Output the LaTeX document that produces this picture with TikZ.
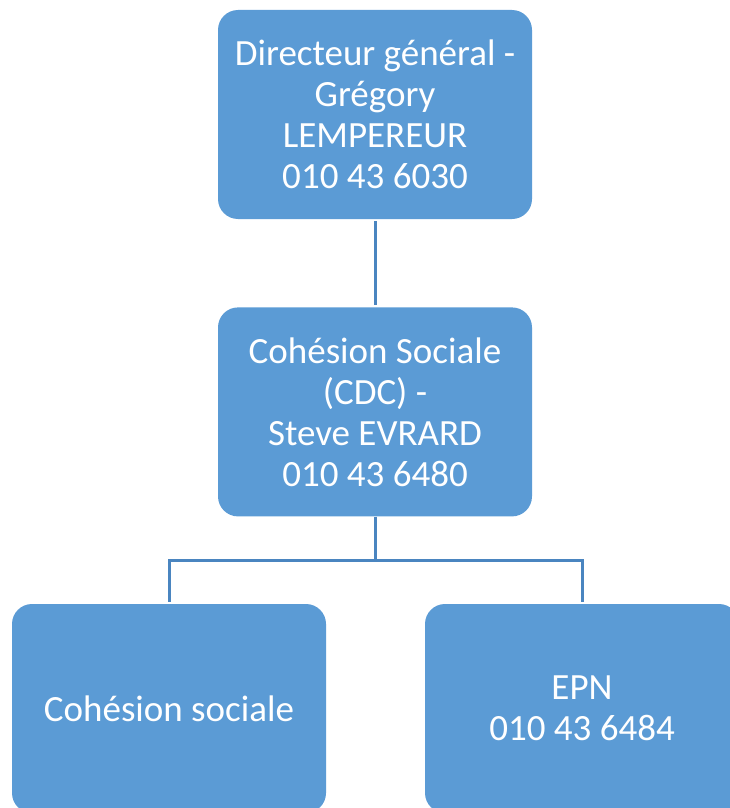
\documentclass[tikz,border=0pt]{standalone}
\usepackage{fontspec}
\setmainfont{Carlito}
\usetikzlibrary{positioning,calc}

\definecolor{boxblue}{HTML}{5B9BD5}
\definecolor{lineblue}{HTML}{4A85C0}

\begin{document}
\begin{tikzpicture}[x=1pt, y=-1pt,
    unit/.style={rectangle, fill=boxblue, rounded corners=20pt, minimum width=314pt, minimum height=209pt, inner sep=0pt,
        text=white, align=center, font=\fontsize{37}{41}\selectfont},
    link/.style={draw=lineblue, line width=3pt, shorten >=2pt}]

        \useasboundingbox (0,0) rectangle (730,808);

        % Direction
        \node [unit] (dg) at (375,114.5) {Directeur général -\\Grégory\\LEMPEREUR\\010 43 6030};

        % Service
        \node [unit, below=88pt of dg] (cdc) {Cohésion Sociale\\(CDC) -\\Steve EVRARD\\010 43 6480};

        % Sub-units
        \node [unit] (cs) at (169,708.5) {Cohésion sociale};
        \node [unit] (epn) at (582,708.5) {EPN\\010 43 6484};

        \coordinate (split) at ($(cdc.south)+(0,44)$);

        % Links
        \draw [link, shorten <=2pt] (dg.south) -- (cdc.north);
        \draw [link] (cdc.south) -- (split) -| (cs.north);
        \draw [link] (split) -| (epn.north);

    \end{tikzpicture}
\end{document}
